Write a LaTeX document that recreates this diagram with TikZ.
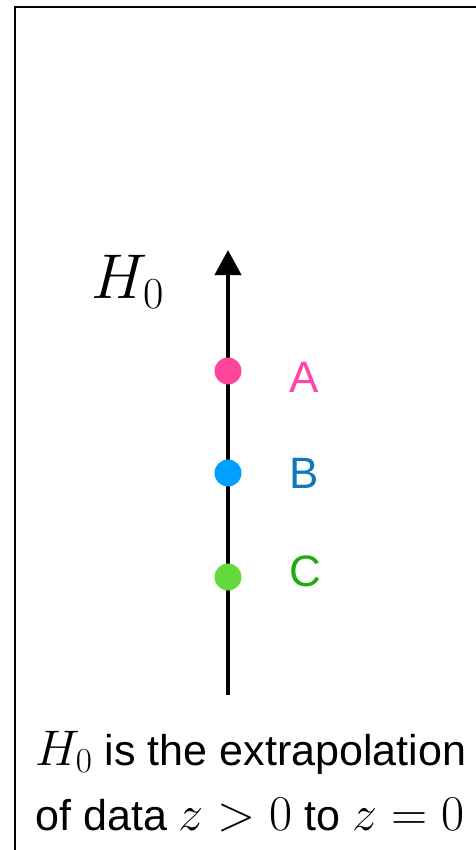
\RequirePackage{fix-cm}
\documentclass[tikz,border=0pt]{standalone}
\usepackage{fontspec}
\setmainfont{Liberation Sans}
\usepackage{tikz}
\usetikzlibrary{arrows.meta,positioning}
\definecolor{pinkA}{RGB}{255,68,153}
\definecolor{blueB}{RGB}{0,160,255}
\definecolor{greenC}{RGB}{102,217,58}
\definecolor{txtA}{RGB}{255,68,170}
\definecolor{txtB}{RGB}{17,119,187}
\definecolor{txtC}{RGB}{34,170,17}
\newcommand\mth[1]{{\fontsize{28.5}{37}\selectfont$#1$}}

\begin{document}
\begin{tikzpicture}[x=0.02cm,y=-0.02cm,
  node distance=0.95cm,
  dot/.style={circle,minimum size=0.54cm,inner sep=0pt},
  lbl/.style={inner sep=0pt,font=\fontsize{25}{30}\selectfont},
  axis/.style={-{Triangle[length=0.5cm,width=0.52cm]},line width=2.3pt}]
  \useasboundingbox (0,0) rectangle (476,850);
  \draw[line width=1.1pt] (15,850) |- (476,7);
  % H0 axis
  \coordinate (bot) at (228,695);
  \coordinate (top) at (228,250);
  \draw[axis] (bot) -- (top);
  \node (h0) at (128,282) {\fontsize{36}{40}\selectfont$H_0$};
  \node[dot,fill=pinkA] (a) at (228,371) {};
  \node[dot,fill=blueB] (b) at (228,473) {};
  \node[dot,fill=greenC] (c) at (228,577) {};
  \node[lbl,text=txtA,right=of a,yshift=-0.12cm] (la) {A};
  \node[lbl,text=txtB,right=of b] (lb) {B};
  \node[lbl,text=txtC,right=of c,yshift=0.12cm] (lc) {C};
  \node[anchor=base west,align=left,inner sep=0pt,
    font=\fontsize{24.5}{37}\selectfont] (note) at (35,830)
    {\mth{H_0} is the extrapolation\\of data \mth{z>0} to \mth{z=0}};
\end{tikzpicture}
\end{document}
